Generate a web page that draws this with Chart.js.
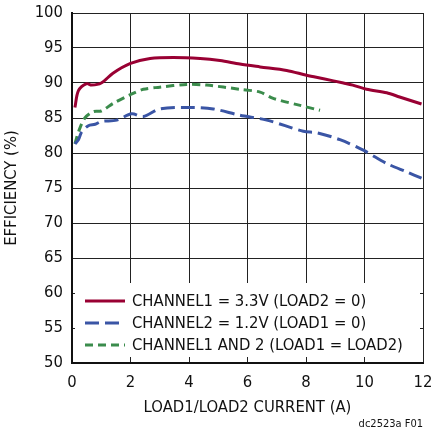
<!DOCTYPE html>
<html>
<head>
<meta charset="utf-8">
<script src="https://cdn.jsdelivr.net/npm/chart.js@4/dist/chart.umd.min.js"></script>
<style>
  html, body { margin: 0; padding: 0; background: #fff; }
  #wrap { width: 431px; height: 432px; position: relative; }
</style>
</head>
<body>
<div id="wrap"><canvas id="myChart" width="431" height="432"></canvas></div>
<script>
// Load current (A) and efficiency (%)
const ch1Load = [0.1, 0.22, 0.5, 0.67, 1.0, 1.4, 2.0, 2.67, 3.46, 4.38, 5.06, 5.74, 6.43, 7.34, 8.02, 8.6, 9.28, 9.6, 10.07, 10.76, 11.2, 11.95];
const ch1Eff  = [86.5, 88.9, 89.9, 89.7, 90.0, 91.4, 92.8, 93.5, 93.65, 93.5, 93.2, 92.7, 92.3, 91.8, 91.1, 90.6, 90.0, 89.7, 89.1, 88.6, 88.0, 87.0];

const ch2Load = [0.1, 0.22, 0.33, 0.56, 0.79, 1.0, 1.53, 2.04, 2.44, 3.0, 4.15, 4.83, 5.74, 6.66, 7.91, 8.37, 9.16, 9.96, 10.76, 11.44, 11.95];
const ch2Eff  = [81.3, 81.9, 83.0, 83.9, 84.1, 84.5, 84.7, 85.6, 85.2, 86.3, 86.5, 86.3, 85.4, 84.7, 83.1, 82.9, 81.9, 80.4, 78.5, 77.3, 76.4];

const bothLoad = [0.1, 0.22, 0.44, 0.73, 1.0, 1.41, 1.98, 2.44, 3.0, 3.92, 4.6, 5.74, 6.43, 6.88, 7.8, 8.48];
const bothEff  = [81.3, 83.0, 85.0, 85.9, 86.0, 87.1, 88.3, 89.1, 89.4, 89.8, 89.7, 89.1, 88.7, 87.8, 86.8, 86.1];

const seriesLabels = [
  "CHANNEL1 = 3.3V (LOAD2 = 0)",
  "CHANNEL2 = 1.2V (LOAD1 = 0)",
  "CHANNEL1 AND 2 (LOAD1 = LOAD2)"
];
const xTicks = [0, 2, 4, 6, 8, 10, 12];
const yTicks = [50, 55, 60, 65, 70, 75, 80, 85, 90, 95, 100];

const FONT = "'Liberation Sans Narrow', 'DejaVu Sans Condensed', 'Roboto Condensed', sans-serif";

const toPoints = (xs, ys) => xs.map((x, i) => ({ x: x, y: ys[i] }));

// legend inside the plot, with a white box over the grid
const insideLegend = {
  id: "insideLegend",
  afterDatasetsDraw(chart) {
    const { ctx, chartArea } = chart;
    ctx.save();
    ctx.fillStyle = "#fff";
    ctx.fillRect(chartArea.left + 3, 283, chartArea.right - chartArea.left - 6, 74);
    chart.data.datasets.forEach((ds, i) => {
      const y = 301 + i * 22;
      ctx.strokeStyle = ds.borderColor;
      ctx.lineWidth = 3;
      ctx.setLineDash(ds.borderDash || []);
      ctx.beginPath();
      ctx.moveTo(85, y);
      ctx.lineTo(125, y);
      ctx.stroke();
      ctx.setLineDash([]);
      ctx.fillStyle = "#111";
      ctx.font = "16.5px " + FONT;
      ctx.textBaseline = "middle";
      ctx.textAlign = "left";
      ctx.fillText(ds.label, 132, y + 1);
    });
    // figure code
    ctx.font = "11px " + FONT;
    ctx.textAlign = "right";
    ctx.fillText("dc2523a F01", 423, 424);
    ctx.restore();
  }
};

const ctx = document.getElementById("myChart");
new Chart(ctx, {
  type: "line",
  data: {
    datasets: [
      {
        label: seriesLabels[0],
        data: toPoints(ch1Load, ch1Eff),
        borderColor: "#990033",
        borderWidth: 3,
        pointRadius: 0,
        tension: 0.3,
      },
      {
        label: seriesLabels[1],
        data: toPoints(ch2Load, ch2Eff),
        borderColor: "#3a55a5",
        borderWidth: 3,
        borderDash: [14, 6],
        pointRadius: 0,
        tension: 0.3,
      },
      {
        label: seriesLabels[2],
        data: toPoints(bothLoad, bothEff),
        borderColor: "#3b8c4c",
        borderWidth: 3,
        borderDash: [8, 5],
        pointRadius: 0,
        tension: 0.3,
      },
    ],
  },
  options: {
    responsive: false,
    animation: false,
    layout: { padding: { left: 0, right: 8, top: 13, bottom: 0 } },
    plugins: { legend: { display: false }, tooltip: { enabled: false } },
    scales: {
      x: {
        type: "linear",
        min: 0,
        max: 12,
        afterBuildTicks: (s) => { s.ticks = xTicks.map((v) => ({ value: v })); },
        afterFit: (s) => { s.height = 69; s.paddingLeft = 0; s.paddingRight = 0; },
        grid: { color: "#222", lineWidth: 1, drawTicks: false },
        border: { color: "#111", width: 2 },
        ticks: { color: "#111", font: { size: 16.5, family: FONT }, padding: 10, maxRotation: 0 },
        title: {
          display: true,
          text: "LOAD1/LOAD2 CURRENT (A)",
          color: "#111",
          font: { size: 16.5, family: FONT },
          padding: { top: 0, bottom: 14 },
        },
      },
      y: {
        min: 50,
        max: 100,
        afterBuildTicks: (s) => { s.ticks = yTicks.map((v) => ({ value: v })); },
        afterFit: (s) => { s.width = 72; s.paddingTop = 0; s.paddingBottom = 0; },
        grid: { color: "#222", lineWidth: 1, drawTicks: false },
        border: { color: "#111", width: 2 },
        ticks: { color: "#111", font: { size: 16.5, family: FONT }, padding: 9 },
        title: {
          display: true,
          text: "EFFICIENCY (%)",
          color: "#111",
          font: { size: 16.5, family: FONT },
          padding: { top: 2, bottom: 0 },
        },
      },
    },
  },
  plugins: [insideLegend],
});
</script>
</body>
</html>
